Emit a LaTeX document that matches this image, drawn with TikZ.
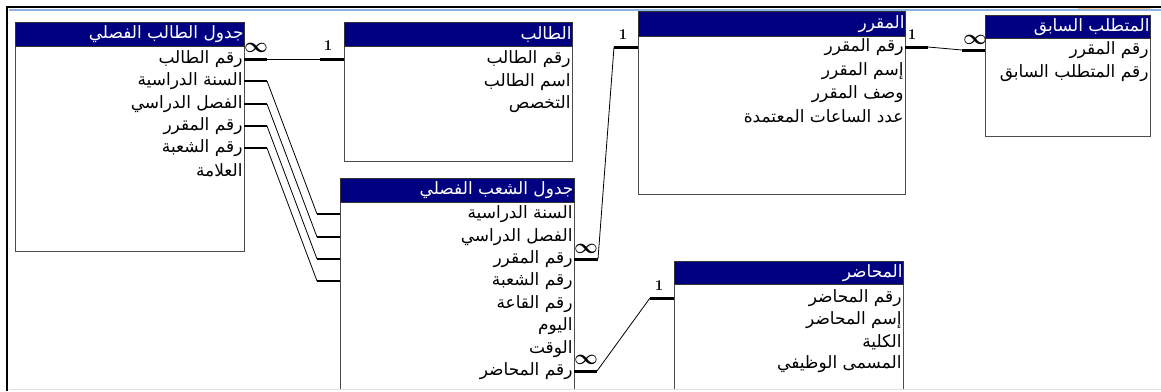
\documentclass[tikz,border=0pt]{standalone}
\usepackage{fontspec}
\usepackage{amsmath}
\usetikzlibrary{calc}
\newfontfamily\arabicfont[Script=Arabic]{DejaVu Sans}
\TeXXeTstate=1
\definecolor{headnavy}{HTML}{000080}
\definecolor{frameblue}{HTML}{8DB3E2}

\begin{document}
\begin{tikzpicture}[x=1pt,y=-1pt,
  tblhead/.style={draw=black!80,fill=headnavy,line width=1pt,inner sep=0pt,anchor=north west,minimum height=24pt},
  tblbody/.style={draw=black!70,fill=white,line width=1pt,inner sep=0pt,anchor=north west},
  headtxt/.style={text=white,font=\arabicfont\fontsize{17}{19}\selectfont,anchor=east,inner sep=1.5pt,outer sep=0pt},
  fld/.style={text=black,font=\arabicfont\fontsize{17}{19}\selectfont,anchor=east,inner sep=1.5pt,outer sep=0pt},
  stub/.style={line width=3pt},
  thinstub/.style={line width=1.6pt},
  link/.style={line width=0.8pt},
  manymark/.style={font=\fontsize{20}{20}\selectfont,inner sep=0pt},
  onemark/.style={font=\fontsize{15}{15}\selectfont\bfseries,inner sep=0pt}]
  \useasboundingbox (0,0) rectangle (1161,391);
  % marco de la captura
  \draw[line width=2pt] (7,391)--(7,7)--(1161,7);
  \draw[frameblue,line width=1.5pt] (9,10)--(1161,10);
  \draw[orange!45,line width=1pt] (1078,8.5)--(1150,8.5);
  \begin{scope}
  \clip (0,0) rectangle (1161,389);
  % jdwl altalb alfasli
  \node[tblbody,minimum width=229pt,minimum height=205pt] (t1b) at (15,46) {};
  \node[tblhead,minimum width=229pt] (t1h) at (15,22) {};
  \node[headtxt] (t1t) at (t1h.east) {\beginR جدول الطالب الفصلي\endR};
  \node[fld] (t1r1) at (244,59) {\beginR رقم الطالب\endR};
  \node[fld] (t1r2) at (244,81) {\beginR السنة الدراسية\endR};
  \node[fld] (t1r3) at (244,104) {\beginR الفصل الدراسي\endR};
  \node[fld] (t1r4) at (244,126) {\beginR رقم المقرر\endR};
  \node[fld] (t1r5) at (244,148) {\beginR رقم الشعبة\endR};
  \node[fld] (t1r6) at (244,170) {\beginR العلامة\endR};
  % altalb
  \node[tblbody,minimum width=228pt,minimum height=115pt] (stb) at (344,46) {};
  \node[tblhead,minimum width=228pt] (sth) at (344,22) {};
  \node[headtxt] (stt) at (sth.east) {\beginR الطالب\endR};
  \node[fld] (str1) at (572,59) {\beginR رقم الطالب\endR};
  \node[fld] (str2) at (572,82) {\beginR اسم الطالب\endR};
  \node[fld] (str3) at (572,104) {\beginR التخصص\endR};
  % almuqarrar
  \node[tblbody,minimum width=267pt,minimum height=158pt] (crb) at (638,36) {};
  \node[tblhead,minimum width=267pt,minimum height=25pt] (crh) at (638,11) {};
  \node[headtxt] (crt) at (crh.east) {\beginR المقرر\endR};
  \node[fld] (crr1) at (905,47) {\beginR رقم المقرر\endR};
  \node[fld] (crr2) at (905,71) {\beginR إسم المقرر\endR};
  \node[fld] (crr3) at (905,94) {\beginR وصف المقرر\endR};
  \node[fld] (crr4) at (905,116) {\beginR عدد الساعات المعتمدة\endR};
  % almutatallab alsabiq
  \node[tblbody,minimum width=165pt,minimum height=98pt] (prb) at (985,38) {};
  \node[tblhead,minimum width=165pt,minimum height=23pt] (prh) at (985,15) {};
  \node[headtxt] (prt) at (prh.east) {\beginR المتطلب السابق\endR};
  \node[fld] (prr1) at (1150,50) {\beginR رقم المقرر\endR};
  \node[fld] (prr2) at (1150,73) {\beginR رقم المتطلب السابق\endR};
  % jdwl alshuab alfasli (abajo, cortada)
  \node[tblbody,minimum width=234pt,minimum height=200pt] (t2b) at (340,202) {};
  \node[tblhead,minimum width=234pt] (t2h) at (340,178) {};
  \node[headtxt] (t2t) at (t2h.east) {\beginR جدول الشعب الفصلي\endR};
  \node[fld] (t2r1) at (574,214) {\beginR السنة الدراسية\endR};
  \node[fld] (t2r2) at (574,237) {\beginR الفصل الدراسي\endR};
  \node[fld] (t2r3) at (574,259) {\beginR رقم المقرر\endR};
  \node[fld] (t2r4) at (574,281) {\beginR رقم الشعبة\endR};
  \node[fld] (t2r5) at (574,304) {\beginR رقم القاعة\endR};
  \node[fld] (t2r6) at (574,326) {\beginR اليوم\endR};
  \node[fld] (t2r7) at (574,349) {\beginR الوقت\endR};
  \node[fld] (t2r8) at (574,371) {\beginR رقم المحاضر\endR};
  % almuhadir (abajo, cortada)
  \node[tblbody,minimum width=229pt,minimum height=120pt] (lcb) at (674,284) {};
  \node[tblhead,minimum width=229pt,minimum height=23pt] (lch) at (674,261) {};
  \node[headtxt] (lct) at (lch.east) {\beginR المحاضر\endR};
  \node[fld] (lcr1) at (903,298) {\beginR رقم المحاضر\endR};
  \node[fld] (lcr2) at (903,320) {\beginR إسم المحاضر\endR};
  \node[fld] (lcr3) at (903,342) {\beginR الكلية\endR};
  \node[fld] (lcr4) at (903,364) {\beginR المسمى الوظيفي\endR};
  \end{scope}
  \draw[black!12,line width=1.5pt] (9,389.5)--(1161,389.5);
  % --- relaciones ---
  \draw[stub] (t1r1.east)--++(23,0); \draw[link] ($(t1r1.east)+(23,0)$)--($(stb.west |- str1)+(-24,0)$);
  \draw[stub] ($(stb.west |- str1)+(-24,0)$)--(stb.west |- str1);
  \node[manymark] (m1) at (256,48) {$\boldsymbol{\infty}$}; \node[onemark] (o1) at (328,46) {1};
  \draw[thinstub] (t1r2.east)--++(23,0) coordinate (a2); \draw[link] (a2)--($(t2b.west |- t2r1)+(-23,0)$); \draw[thinstub] ($(t2b.west |- t2r1)+(-23,0)$)--(t2b.west |- t2r1);
  \draw[thinstub] (t1r3.east)--++(23,0) coordinate (a3); \draw[link] (a3)--($(t2b.west |- t2r2)+(-23,0)$); \draw[thinstub] ($(t2b.west |- t2r2)+(-23,0)$)--(t2b.west |- t2r2);
  \draw[thinstub] (t1r4.east)--++(23,0) coordinate (a4); \draw[link] (a4)--($(t2b.west |- t2r3)+(-23,0)$); \draw[thinstub] ($(t2b.west |- t2r3)+(-23,0)$)--(t2b.west |- t2r3);
  \draw[thinstub] (t1r5.east)--++(23,0) coordinate (a5); \draw[link] (a5)--($(t2b.west |- t2r4)+(-23,0)$); \draw[thinstub] ($(t2b.west |- t2r4)+(-23,0)$)--(t2b.west |- t2r4);
  % shuab -> muqarrar
  \draw[stub] (t2r3.east)--++(24,0) coordinate (b1); \draw[link] (b1)--($(crb.west |- crr1)+(-24,0)$); \draw[stub] ($(crb.west |- crr1)+(-24,0)$)--(crb.west |- crr1);
  \node[manymark] (m2) at (586,249) {$\boldsymbol{\infty}$}; \node[onemark] (o2) at (623,35) {1};
  % muqarrar -> mutatallab
  \draw[stub] (crr1.east)--++(23,0) coordinate (c1); \draw[link] (c1)--($(prb.west |- prr1)+(-23,0)$); \draw[stub] ($(prb.west |- prr1)+(-23,0)$)--(prb.west |- prr1);
  \node[onemark] (o3) at (912,35) {1}; \node[manymark] (m3) at (975,40) {$\boldsymbol{\infty}$};
  % shuab -> muhadir
  \draw[stub] (t2r8.east)--++(23,0) coordinate (d1); \draw[link] (d1)--($(lcb.west |- lcr1)+(-24,0)$); \draw[stub] ($(lcb.west |- lcr1)+(-24,0)$)--(lcb.west |- lcr1);
  \node[manymark] (m4) at (586,360) {$\boldsymbol{\infty}$}; \node[onemark] (o4) at (659,286) {1};
\end{tikzpicture}
\end{document}
